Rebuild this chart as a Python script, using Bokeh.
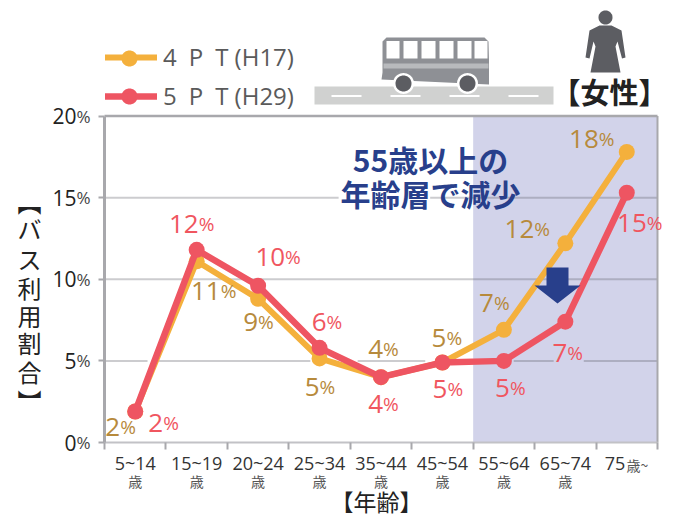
import numpy as np
from bokeh.core.properties import value
from bokeh.embed import file_html
from bokeh.resources import INLINE
from bokeh.plotting import figure
from bokeh.models import (BoxAnnotation, ColumnDataSource, FixedTicker, Label, LabelSet,
                          Legend, LegendItem, PolyAnnotation)

# Share of bus use among women, by age group (percent)
age_groups = ["5~14", "15~19", "20~24", "25~34", "35~44", "45~54", "55~64", "65~74", "75"]
pt4_h17 = [1.9, 11.1, 8.8, 5.15, 4.0, 4.9, 6.9, 12.2, 17.8]
pt5_h29 = [1.9, 11.8, 9.6, 5.8, 4.0, 4.9, 5.0, 7.4, 15.3]
y_tick_values = [0, 5, 10, 15, 20]
series_names = ["4\u2002P\u2002T (H17)", "5\u2002P\u2002T (H29)"]
y_axis_title = ["︻", "バ", "ス", "利", "用", "割", "合", "︼"]

# Offsets of each value label from its point, pixels (right, up)
pt4_dx = [-15, 24, 0, 0, 2, 4, -10, -31, -28]
pt4_dy = [-16, -30, -23, -29, 28, 25, 27, 14, 13]
pt5_dx = [28, 2, 27, 7, 2, 5, 6, 2, 20]
pt5_dy = [-12, 26, 29, 26, -27, -26, -27, -31, -30]

# Stretches of the horizontal guide lines that stay visible, in category units
guide_spans = {5: [(0, 0.70), (0.88, 3.35), (4.12, 5.22), (6.66, 7.31), (7.8, 9)],
               10: [(0, 9)],
               15: [(0, 3.81), (5.3, 9)]}

ORANGE, RED = "#f4b03c", "#ee5562"
ORANGE_TXT, RED_TXT = "#b78a3c", "#f0565f"
BLUE = "#283f8b"
GREY = "#a8a8ac"
DARK = "#5c5d62"
LATIN = "Open Sans"
CJK = "Noto Sans CJK JP"

x = [i + 0.5 for i in range(len(age_groups))]

# The plotting area fills the page; axes sit inside it so that the legend,
# the titles and the pictograms can share the same canvas.
PX_X, PX_Y = 61.44, 16.325
p = figure(width=681, height=517, output_backend="svg", toolbar_location=None,
           x_range=(-104 / PX_X, 9 + 24 / PX_X), y_range=(-75 / PX_Y, 20 + 115.5 / PX_Y),
           min_border=0)
p.background_fill_color = "white"
p.border_fill_color = "white"
p.outline_line_color = None
p.grid.visible = False

# Shaded age range where use has fallen
p.add_layout(BoxAnnotation(left=6, right=9, bottom=0, top=20, fill_color="#d2d3ea", fill_alpha=1,
                           line_color=None, level="image"))

# Horizontal guides, top edge and right edge of the chart
for tick, spans in guide_spans.items():
    p.segment([s[0] for s in spans], tick, [s[1] for s in spans], tick,
              line_color="#60606a", line_alpha=0.32, line_width=2)
p.segment(0, y_tick_values[-1], 9, y_tick_values[-1], line_color=GREY, line_width=2.5)
p.segment(9, 0, 9, y_tick_values[-1], line_color=GREY, line_width=2)

ax = p.xaxis[0]
ax.fixed_location = 0
ax.bounds = (0, 9)
ax.ticker = FixedTicker(ticks=x, minor_ticks=list(range(len(age_groups) + 1)))
ax.major_label_overrides = {c: (g if g != "75" else "75" + "\u00a0" * 5) for c, g in zip(x, age_groups)}
ax.major_tick_line_color = None
ax.major_tick_out = 5
ax.minor_tick_out = 7
ax.minor_tick_in = 0
ax.minor_tick_line_color = GREY
ax.minor_tick_line_width = 2
ax.axis_line_color = "#c2c2c6"
ax.axis_line_width = 2
ax.major_label_standoff = 1
ax.major_label_text_font = LATIN
ax.major_label_text_font_size = "18px"
ax.major_label_text_color = "#333333"

ay = p.yaxis[0]
ay.fixed_location = 0
ay.bounds = (0, 20)
ay.ticker = FixedTicker(ticks=y_tick_values)
ay.major_label_overrides = {v: str(v) for v in y_tick_values}
ay.minor_tick_line_color = None
ay.major_tick_out = 6
ay.major_tick_in = 0
ay.major_tick_line_color = GREY
ay.major_tick_line_width = 2
ay.axis_line_color = GREY
ay.axis_line_width = 3
ay.major_label_standoff = 22
ay.major_label_text_font = LATIN
ay.major_label_text_font_size = "21px"
ay.major_label_text_color = "#222222"
ay.major_label_text_baseline = "middle"

# Small percent signs beside the y tick numbers
p.add_layout(LabelSet(source=ColumnDataSource(dict(y=y_tick_values, t=["%"] * len(y_tick_values))),
                      x=76, y="y", text="t", x_units="canvas", y_units="data",
                      text_font=value(LATIN), text_font_size="17px", text_color="#444444",
                      text_align="left", text_baseline="middle"))

# Series
l4 = p.line(x, pt4_h17, line_color=ORANGE, line_width=6, line_join="round", line_cap="round")
c4 = p.scatter(x, pt4_h17, size=16, fill_color=ORANGE, line_color=None)
l5 = p.line(x, pt5_h29, line_color=RED, line_width=6.5, line_join="round", line_cap="round")
c5 = p.scatter(x, pt5_h29, size=16, fill_color=RED, line_color=None)

legend = Legend(items=[LegendItem(label=series_names[0], renderers=[l4, c4]),
                       LegendItem(label=series_names[1], renderers=[l5, c5])],
                location=(105, 405), orientation="vertical",
                background_fill_alpha=0, border_line_color=None,
                glyph_width=52, glyph_height=22, label_standoff=6, spacing=6,
                label_text_font=LATIN, label_text_font_size="24px", label_text_color="#5a5a5a",
                padding=8, margin=0)
p.add_layout(legend, "center")

# Value labels: large digits with a smaller percent sign
def value_labels(values, dx, dy, color):
    src = ColumnDataSource(dict(x=x, y=values, dx=dx, dy=dy,
                                n=[str(int(round(v))) for v in values], u=["%"] * len(values)))
    p.add_layout(LabelSet(source=src, x="x", y="y", text="n", x_offset="dx", y_offset="dy",
                          text_font=value(LATIN), text_font_size="26px", text_color=color,
                          text_align="right", text_baseline="middle"))
    p.add_layout(LabelSet(source=src, x="x", y="y", text="u", x_offset="dx", y_offset="dy",
                          text_font=value(LATIN), text_font_size="19px", text_color=color,
                          text_align="left", text_baseline="middle"))

value_labels(pt4_h17, pt4_dx, pt4_dy, ORANGE_TXT)
value_labels(pt5_h29, pt5_dx, pt5_dy, RED_TXT)

# Age unit under each group label
unit_src = ColumnDataSource(dict(x=x[:-1], t=["歳"] * (len(x) - 1)))
p.add_layout(LabelSet(source=unit_src, x="x", y=480, text="t", x_units="data", y_units="canvas",
                      text_font=value(CJK), text_font_size="14px", text_color="#555555",
                      text_align="center", text_baseline="middle"))

def canvas_label(text, cx, cy, size, color, font=CJK, style="normal", align="center"):
    p.add_layout(Label(x=cx, y=cy, x_units="canvas", y_units="canvas", text=text,
                       text_font=font, text_font_size=f"{size}px", text_color=color,
                       text_font_style=style, text_align=align, text_baseline="middle"))

canvas_label("歳~", 626, 464, 14, "#555555", align="left")
canvas_label("【年齢】", 376, 500, 23, "#222222")
canvas_label("【女性】", 609, 90, 29, "#222222", style="bold")
canvas_label("55歳以上の", 430, 158, 30, BLUE, style="bold")
canvas_label("年齢層で減少", 430, 192, 30, BLUE, style="bold")

# Vertical axis title, one upright character per row
for ch, cy in zip(y_axis_title, [201, 228, 258, 287, 315, 342, 371, 400]):
    canvas_label(ch, 29, cy, 24, "#222222")

def poly(xs, ys, color):
    p.add_layout(PolyAnnotation(xs=list(xs), ys=list(ys), xs_units="canvas", ys_units="canvas",
                                fill_color=color, fill_alpha=1, line_color=None, level="overlay"))

def rect(x0, y0, x1, y1, color):
    poly([x0, x1, x1, x0], [y0, y0, y1, y1], color)

def disc(cx, cy, r, color):
    a = np.linspace(0, 2 * np.pi, 40, endpoint=False)
    poly(cx + r * np.cos(a), cy + r * np.sin(a), color)

# Larger dots on the legend keys
disc(129, 58, 8, ORANGE)
disc(129, 96, 8, RED)

# Downward arrow
poly([546, 568, 568, 580, 557, 534, 546], [267, 267, 285, 285, 303, 285, 285], BLUE)

# Road
rect(314, 86, 553, 104, "#d0d1d0")
for d0, d1 in [(331, 361), (390, 420), (449, 479), (508, 538)]:
    rect(d0, 94.5, d1, 96.5, "white")

# Bus
poly([386, 484, 488, 488.5, 488.5, 381, 382, 382], [37, 37, 41, 60, 84, 79, 72, 41], "#8e9095")
for w0, w1 in [(386, 399), (403, 417), (421, 435), (439, 453), (457, 471), (474, 487)]:
    rect(w0, 40.5, w1, 58, "white")
rect(383, 63, 488, 68, "#b8babd")
for cx in (403, 467):
    disc(cx, 83, 10.5, "white")
    disc(cx, 83, 8, DARK)

# Woman figure
disc(605, 17, 7, DARK)
poly([599, 611, 621, 625, 621.5, 617, 615, 620, 590, 595, 593, 589, 585, 589],
     [25, 25, 30, 57, 58, 41, 46, 72, 72, 46, 41, 58, 57, 30], DARK)

open("out.html", "w").write(file_html(p, INLINE))
